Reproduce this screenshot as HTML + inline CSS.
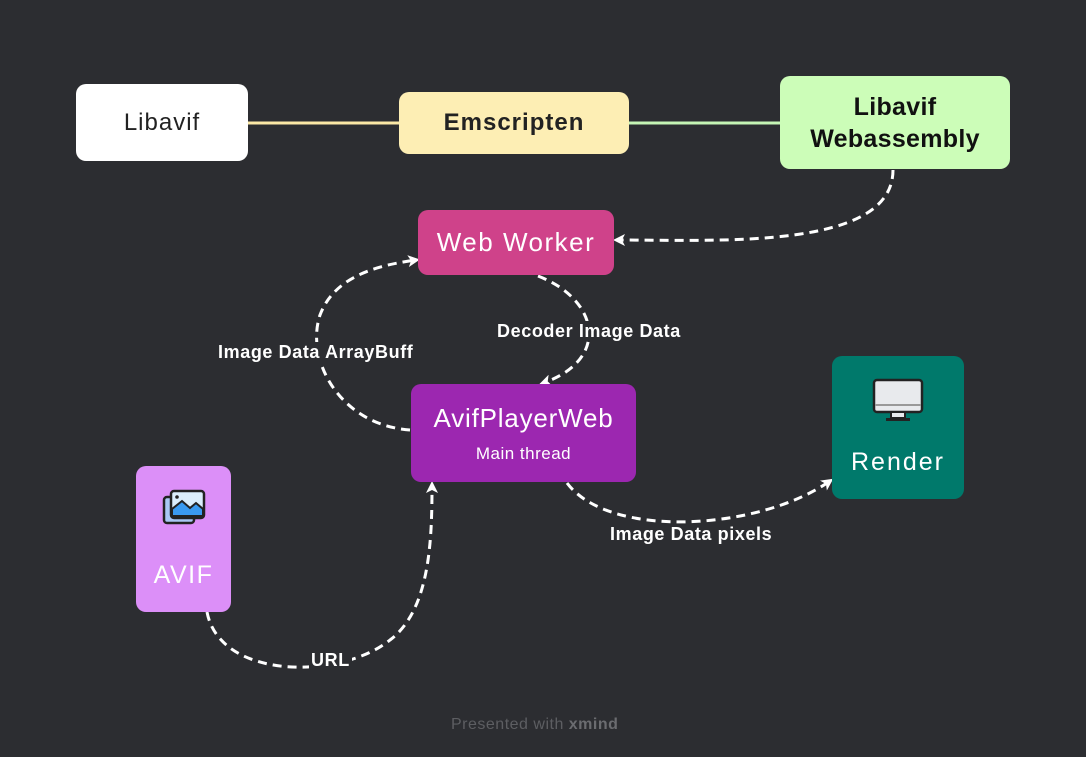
<!DOCTYPE html>
<html><head><meta charset="utf-8"><style>
html,body{margin:0;padding:0}
body{width:1086px;height:757px;background:#2c2d31;position:relative;overflow:hidden;font-family:"Liberation Sans",sans-serif}
.n{position:absolute;border-radius:10px;display:flex;align-items:center;justify-content:center;text-align:center;box-sizing:border-box;letter-spacing:1px}
.lbl{position:absolute;color:#fff;font-weight:bold;font-size:18px;letter-spacing:0.6px;background:#2c2d31;white-space:nowrap;line-height:20px}
</style></head><body>
<svg width="1086" height="757" style="position:absolute;left:0;top:0">
<defs><marker id="a" markerWidth="12" markerHeight="12" refX="8" refY="6" orient="auto" markerUnits="userSpaceOnUse"><path d="M0,0 L12,6 L0,12 L3,6 z" fill="#fff"/></marker></defs>
<line x1="248" y1="123" x2="399" y2="123" stroke="#fbe8a6" stroke-width="3"/>
<line x1="629" y1="123" x2="780" y2="123" stroke="#c5f5b5" stroke-width="3"/>
<g fill="none" stroke="#fff" stroke-width="3" stroke-dasharray="9,6">
<path d="M893,170 C893,250 720,240 617,240" marker-end="url(#a)"/>
<path d="M538,276 C600,300 610,360 543,383" marker-end="url(#a)"/>
<path d="M410,430 C340,425 305,360 320,315 C335,275 380,265 416,260" marker-end="url(#a)"/>
<path d="M567,483 C610,540 760,530 830,481" marker-end="url(#a)"/>
<path d="M207,612 C220,680 340,680 390,640 C430,610 432,540 432,485" marker-end="url(#a)"/>
</g>
</svg>
<div class="n" style="left:76px;top:84px;width:172px;height:77px;background:#fff;color:#222;font-size:24px">Libavif</div>
<div class="n" style="left:399px;top:92px;width:230px;height:62px;background:#fdeeb4;color:#222;font-size:24px;font-weight:bold">Emscripten</div>
<div class="n" style="left:780px;top:76px;width:230px;height:93px;background:#ccfdb8;color:#111;font-size:25px;font-weight:bold;line-height:32px;letter-spacing:0.3px">Libavif<br>Webassembly</div>
<div class="n" style="left:418px;top:210px;width:196px;height:65px;background:#cf428a;color:#fff;font-size:26px;letter-spacing:1.5px">Web Worker</div>
<div class="n" style="left:411px;top:384px;width:225px;height:98px;background:#9c27b0;color:#fff;flex-direction:column"><div style="font-size:26px;letter-spacing:0.8px">AvifPlayerWeb</div><div style="font-size:17px;margin-top:10px;letter-spacing:0.5px">Main thread</div></div>
<div class="n" style="left:832px;top:356px;width:132px;height:143px;background:#00796b;color:#fff;font-size:25px;flex-direction:column;letter-spacing:2px">
<svg width="52" height="44" viewBox="0 0 52 44"><rect x="2" y="2" width="48" height="32" rx="3" fill="#e8eaed" stroke="#222" stroke-width="2.5"/><line x1="3" y1="27" x2="49" y2="27" stroke="#999" stroke-width="2"/><rect x="19" y="34" width="14" height="6" fill="#e8eaed" stroke="#222" stroke-width="2"/><rect x="14" y="40" width="24" height="3" fill="#222"/></svg>
<div style="margin-top:26px">Render</div></div>
<div class="n" style="left:136px;top:466px;width:95px;height:146px;background:#dc8ff8;color:#fff;font-size:25px;flex-direction:column;letter-spacing:1.5px">
<svg width="44" height="36" viewBox="0 0 44 36"><rect x="2" y="8" width="30" height="26" rx="3" fill="#aac8f5" stroke="#222" stroke-width="2.5"/><rect x="9" y="2" width="33" height="27" rx="3" fill="#dbeefc" stroke="#222" stroke-width="2.5"/><path d="M10,27 L10,20 L20,12 L28,19 L34,14 L41,20 L41,27 Z" fill="#3a9af0" stroke="#222" stroke-width="2"/><circle cx="15" cy="8" r="1.8" fill="#222"/></svg>
<div style="margin-top:36px">AVIF</div></div>
<div class="lbl" style="left:218px;top:342px">Image Data ArrayBuff</div>
<div class="lbl" style="left:497px;top:321px">Decoder Image Data</div>
<div class="lbl" style="left:610px;top:524px">Image Data pixels</div>
<div class="lbl" style="left:309px;top:650px;padding:0 2px">URL</div>
<div style="position:absolute;left:451px;top:716px;font-size:16px;color:#5d5e62;letter-spacing:0.5px">Presented with <b style="color:#6b6c70">xmind</b></div>
</body></html>
